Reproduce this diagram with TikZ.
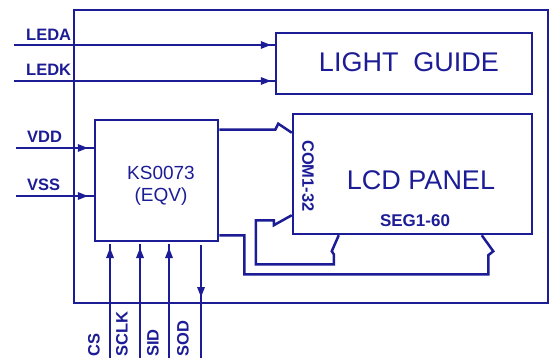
\documentclass[tikz,border=0pt]{standalone}
\usepackage{fontspec}
\setmainfont{Liberation Sans}
\usetikzlibrary{arrows.meta,decorations.markings,calc}
\definecolor{ink}{RGB}{28,28,150}
\tikzset{
  wire/.style={draw=ink, line width=2.5pt, line join=miter},
  box/.style={draw=ink, line width=2.5pt, inner sep=0pt, fill=none},
  midarrow/.style={postaction={decorate}, decoration={markings,
      mark=at position #1 with {\fill[ink] (0pt,0pt) -- (-10pt,4pt) -- (-10pt,-4pt) -- cycle;}}},
  lbl/.style={text=ink, font=\bfseries\fontsize{16.5}{16.5}\selectfont, inner sep=0pt},
  big/.style={text=ink, font=\fontsize{27}{27}\selectfont, inner sep=0pt},
  chip/.style={text=ink, font=\fontsize{19}{22}\selectfont, inner sep=0pt, align=center},
}
\begin{document}
\begin{tikzpicture}[x=1pt, y=-1pt]
\useasboundingbox (0,0) rectangle (551,358);
% boxes
\node[box, minimum width=474pt, minimum height=293pt] (frame) at (311,156.5) {};
\node[box, minimum width=256pt, minimum height=61pt] (lg) at (404,63.5) {};
\node[box, minimum width=239pt, minimum height=120pt] (lcd) at (412.5,174) {};
\node[box, minimum width=123pt, minimum height=121pt] (ks) at (156.5,180.5) {};
% texts
\node[big] (lgtext) at (409,62) {LIGHT\ \ GUIDE};
\node[big] (lcdtext) at (421,180) {LCD PANEL};
\node[lbl, font=\bfseries\fontsize{17}{17}\selectfont] (seg) at (415,221) {SEG1-60};
\node[lbl, rotate=-90] (com) at (308,176) {COM1-32};
\node[chip] (kstext) at (161,185.5) {KS0073\\(EQV)};
\node[lbl, anchor=west] (ledal) at (26,35) {LEDA};
\node[lbl, anchor=west] (ledkl) at (26,70) {LEDK};
\node[lbl, anchor=west] (vddl) at (27,137) {VDD};
\node[lbl, anchor=west] (vssl) at (27,185) {VSS};
\node[lbl, rotate=90, anchor=west] (csl) at (94,357) {CS};
\node[lbl, rotate=90, anchor=west] (sclkl) at (122,357) {SCLK};
\node[lbl, rotate=90, anchor=west] (sidl) at (153,357) {SID};
\node[lbl, rotate=90, anchor=west] (sodl) at (183,357) {SOD};
% free ends
\coordinate (ledaS) at (14,45);
\coordinate (ledkS) at (14,81);
\coordinate (vddS) at (16,148);
\coordinate (vssS) at (16,196);
\coordinate (csB) at (110,358);   \coordinate (csT) at (110,244);
\coordinate (sclkB) at (140,358); \coordinate (sclkT) at (140,244);
\coordinate (sidB) at (169,358);  \coordinate (sidT) at (169,244);
\coordinate (sodB) at (201,358);  \coordinate (sodT) at (201,245);
% input wires
\draw[wire, midarrow=-4pt] (ledaS) -- (ledaS -| lg.west);
\draw[wire, midarrow=-4pt] (ledkS) -- (ledkS -| lg.west);
\draw[wire, midarrow=-6pt] (vddS) -- (vddS -| ks.west);
\draw[wire, midarrow=-6pt] (vssS) -- (vssS -| ks.west);
\draw[wire, midarrow=-4pt] (csB) -- (csT);
\draw[wire, midarrow=-4pt] (sclkB) -- (sclkT);
\draw[wire, midarrow=-4pt] (sidB) -- (sidT);
\draw[wire, midarrow=52pt] (sodT) -- (sodB);
% bus connectors
\draw[wire] ($(ks.north east)+(0,11)$) -- ++(56,0) -- ++(3,-6) -- ($(lcd.north west)+(0,20)$);
\draw[wire] ($(lcd.south west)+(0,-20)$) -- ++(-18,10) -- ++(0,-5) -- ++(-18,0) -- ++(0,44)
  -- ++(78,0) -- ++(0,-10) -- ++(-2,-3) -- ($(lcd.south west)+(47,0)$);
\draw[wire] ($(ks.south east)+(0,-7)$) -- ++(25,0) -- ++(0,39) -- ++(244,0) -- ++(0,-19)
  -- ++(5,-4) -- ($(lcd.south west)+(190,0)$);
\end{tikzpicture}
\end{document}
